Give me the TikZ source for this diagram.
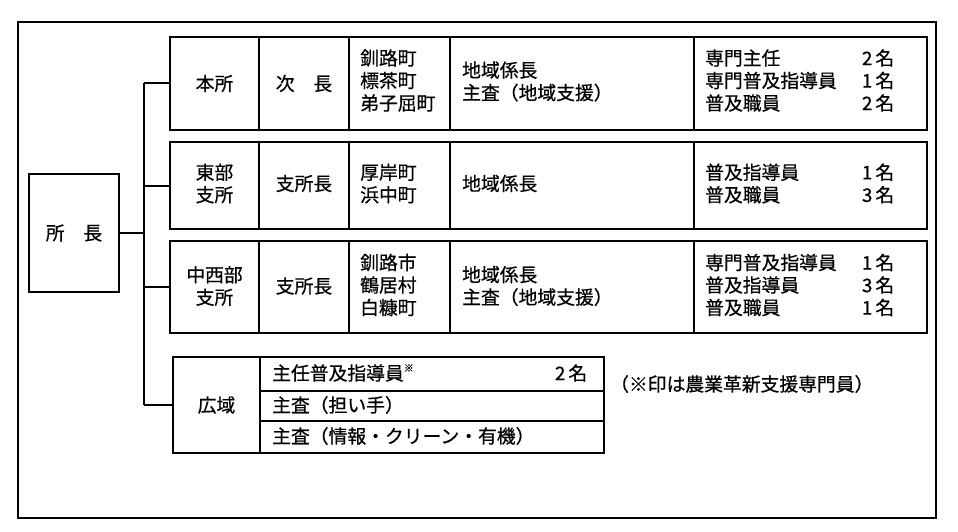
\documentclass[tikz,border=0pt]{standalone}
\usepackage{fontspec}
\setmainfont{Noto Sans CJK JP}[FakeBold=0.6]
\newcommand{\nm}[1]{#1\hspace{3pt}名}
\begin{document}
\begin{tikzpicture}[x=1pt,y=-1pt,
  cell/.style={draw, line width=2pt, inner sep=0pt, outer sep=0pt, anchor=north west},
  txt/.style={font=\fontsize{18.8}{22.5}\selectfont, inner sep=0pt, align=left},
  ctxt/.style={font=\fontsize{18.8}{22.5}\selectfont, inner sep=0pt, align=center},
  conn/.style={draw, line width=2pt}]
\useasboundingbox (0,0) rectangle (958,532);
% outer frame
\node[cell, minimum width=918, minimum height=496] (frame) at (18,22) {};
% chief
\node[cell, minimum width=90, minimum height=118] (chief) at (29,174) {};
\node[ctxt] (chiefT) at (chief.center) {所　長};
% row 1
\node[cell, minimum width=89, minimum height=93] (r1a) at (170,37) {};
\node[cell, minimum width=90, minimum height=93] (r1b) at (259,37) {};
\node[cell, minimum width=101, minimum height=93] (r1c) at (349,37) {};
\node[cell, minimum width=244, minimum height=93] (r1d) at (450,37) {};
\node[cell, minimum width=233, minimum height=93] (r1e) at (694,37) {};
\node[ctxt] (r1aT) at (r1a.center) {本所};
\node[ctxt] (r1bT) at (r1b.center) {次　長};
\node[txt, anchor=west] (r1cT) at ([yshift=3]360,83.5) {釧路町\\標茶町\\弟子屈町};
\node[txt, anchor=west] (r1dT) at ([yshift=2]462,83.5) {地域係長\\主査（地域支援）};
\node[txt, anchor=west] (r1eT) at ([yshift=3]705,83.5) {\makebox[189pt]{専門主任\hfill\nm{2}}\\\makebox[189pt]{専門普及指導員\hfill\nm{1}}\\\makebox[189pt]{普及職員\hfill\nm{2}}};
% row 2
\node[cell, minimum width=89, minimum height=87] (r2a) at (170,142) {};
\node[cell, minimum width=90, minimum height=87] (r2b) at (259,142) {};
\node[cell, minimum width=101, minimum height=87] (r2c) at (349,142) {};
\node[cell, minimum width=244, minimum height=87] (r2d) at (450,142) {};
\node[cell, minimum width=233, minimum height=87] (r2e) at (694,142) {};
\node[ctxt] (r2aT) at ([yshift=2]r2a.center) {東部\\支所};
\node[ctxt] (r2bT) at ([yshift=2]r2b.center) {支所長};
\node[txt, anchor=west] (r2cT) at ([yshift=2]360,185.5) {厚岸町\\浜中町};
\node[txt, anchor=west] (r2dT) at ([yshift=2]462,185.5) {地域係長};
\node[txt, anchor=west] (r2eT) at ([yshift=2]705,185.5) {\makebox[189pt]{普及指導員\hfill\nm{1}}\\\makebox[189pt]{普及職員\hfill\nm{3}}};
% row 3
\node[cell, minimum width=89, minimum height=92] (r3a) at (170,241) {};
\node[cell, minimum width=90, minimum height=92] (r3b) at (259,241) {};
\node[cell, minimum width=101, minimum height=92] (r3c) at (349,241) {};
\node[cell, minimum width=244, minimum height=92] (r3d) at (450,241) {};
\node[cell, minimum width=233, minimum height=92] (r3e) at (694,241) {};
\node[ctxt] (r3aT) at ([yshift=1]r3a.center) {中西部\\支所};
\node[ctxt] (r3bT) at ([yshift=1]r3b.center) {支所長};
\node[txt, anchor=west] (r3cT) at ([yshift=2]360,287) {釧路市\\鶴居村\\白糠町};
\node[txt, anchor=west] (r3dT) at ([yshift=1]462,287) {地域係長\\主査（地域支援）};
\node[txt, anchor=west] (r3eT) at ([yshift=2]705,287) {\makebox[189pt]{専門普及指導員\hfill\nm{1}}\\\makebox[189pt]{普及指導員\hfill\nm{3}}\\\makebox[189pt]{普及職員\hfill\nm{1}}};
% kouiki
\node[cell, minimum width=87, minimum height=96] (kA) at (173,357) {};
\node[cell, minimum width=344, minimum height=34] (kB1) at (260,357) {};
\node[cell, minimum width=344, minimum height=30] (kB2) at (260,391) {};
\node[cell, minimum width=344, minimum height=32] (kB3) at (260,421) {};
\node[ctxt] (kAT) at (kA.center) {広域};
\node[txt, anchor=west] (kB1T) at ([yshift=1]272,374) {\makebox[315pt]{主任普及指導員\raisebox{0.45em}{\fontsize{10}{10}\selectfont ※}\hfill\nm{2}}};
\node[txt, anchor=west] (kB2T) at ([yshift=1]272,406) {主査（担い手）};
\node[txt, anchor=west] (kB3T) at ([yshift=1]272,437) {主査（情報・クリーン・有機）};
% note
\node[txt, anchor=west] (note) at (610,384) {（※印は農業革新支援専門員）};
% connectors
\coordinate (jT) at (144,83.5);
\coordinate (jB) at (144,405);
\draw[conn] (jT) -- (jB);
\draw[conn] (chief.east) -- (chief.east -| jT);
\draw[conn] (jT) -- (r1a.west);
\draw[conn] (r2a.west -| jT) -- (r2a.west);
\draw[conn] (r3a.west -| jT) -- (r3a.west);
\draw[conn] (kA.west -| jT) -- (kA.west);
\end{tikzpicture}
\end{document}
